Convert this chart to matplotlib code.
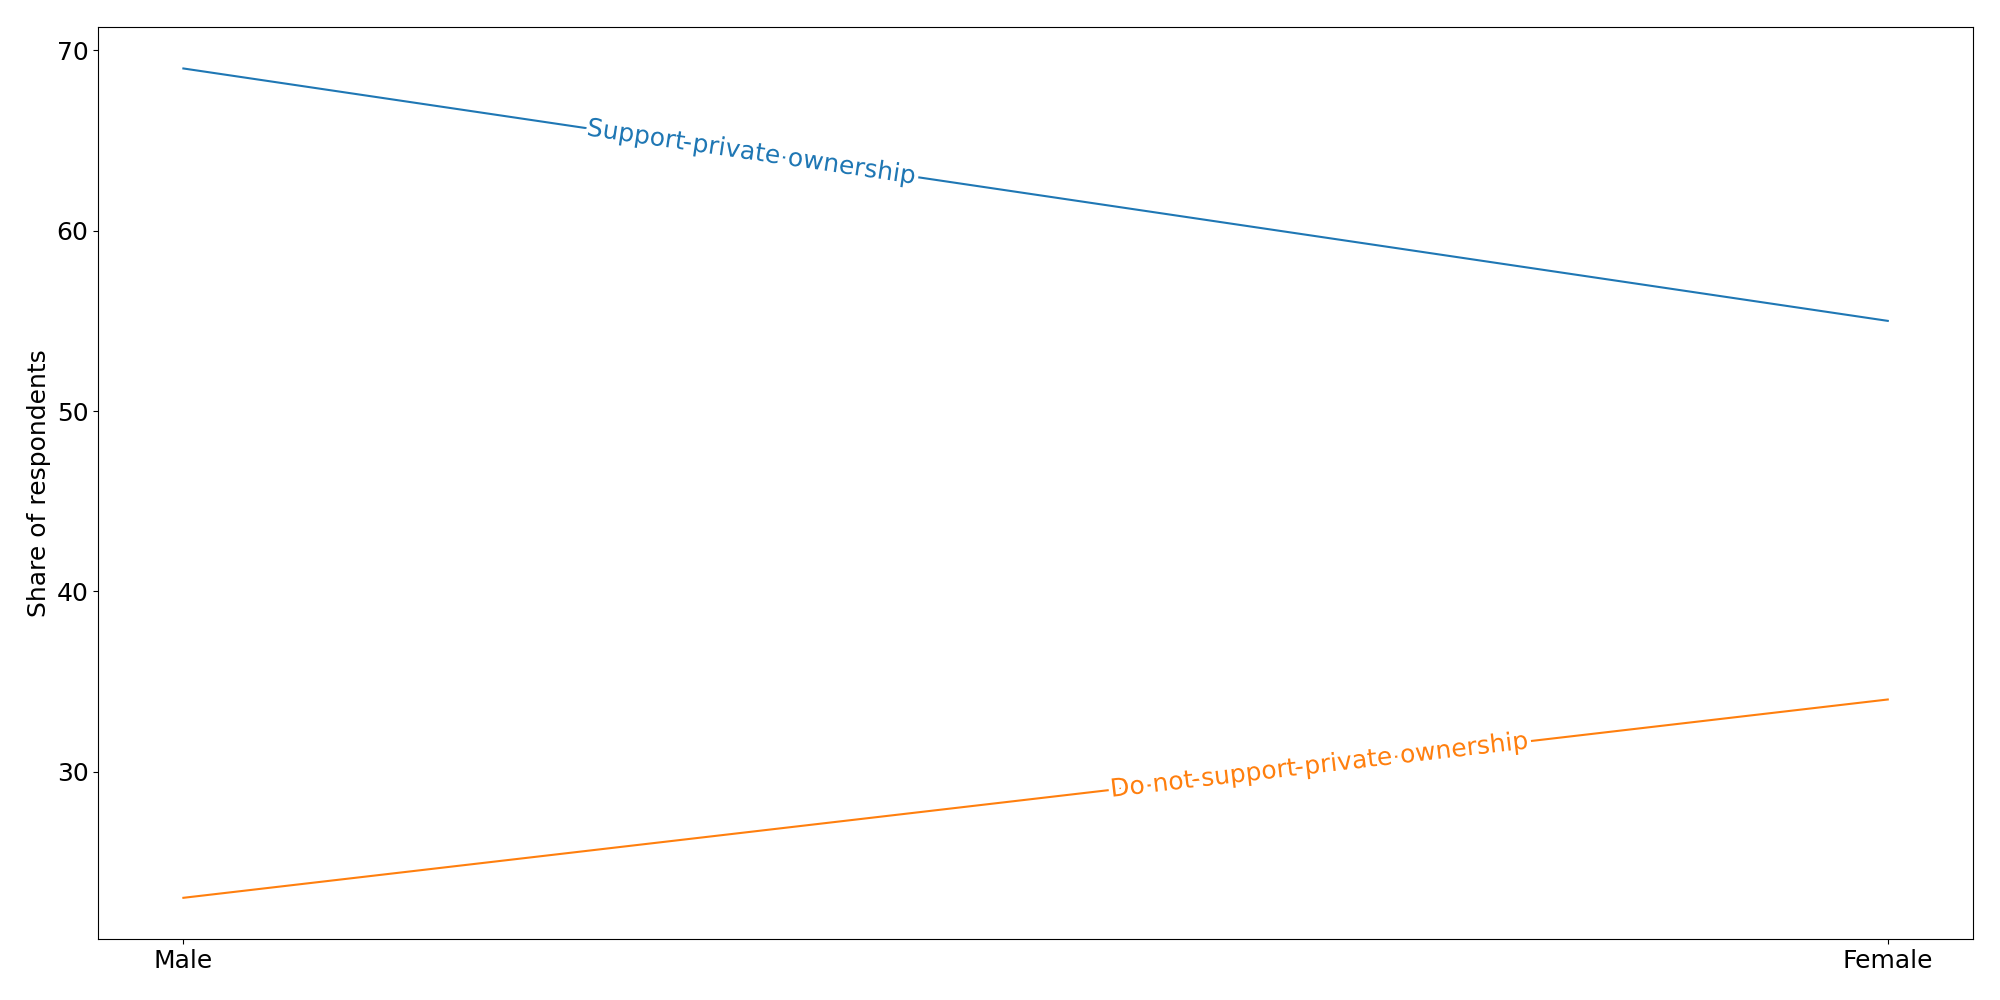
import numpy as np
import matplotlib
matplotlib.use('Agg')
import matplotlib.pyplot as plt
import matplotlib.patheffects as pe

# data
genders = ['Male', 'Female']
support = [69, 55]
not_support = [23, 34]
series_names = ['Support private ownership', 'Do not support private ownership']
label_xs = [1 / 3, 2 / 3]

plt.rcParams['font.size'] = 18

fig, ax = plt.subplots(figsize=(20, 10), dpi=100)
x = np.arange(len(genders))
lines = []
for vals, name in zip([support, not_support], series_names):
    (ln,) = ax.plot(x, vals, label=name, linewidth=1.5)
    lines.append(ln)

ax.set_xticks(x)
ax.set_xticklabels(genders)
ax.set_ylabel('Share of respondents')
fig.tight_layout()

# inline labels sitting on the lines
for ln, lx in zip(lines, label_xs):
    xs, ys = ln.get_xdata(), ln.get_ydata()
    ly = np.interp(lx, xs, ys)
    ang = np.degrees(np.arctan2(ys[1] - ys[0], xs[1] - xs[0]))
    ax.text(lx, ly, ln.get_label(), color=ln.get_color(), fontsize=18,
            ha='center', va='center', rotation=ang, rotation_mode='anchor',
            transform_rotates_text=True,
            path_effects=[pe.withStroke(linewidth=6, foreground='white')])

fig.savefig('out.png')
